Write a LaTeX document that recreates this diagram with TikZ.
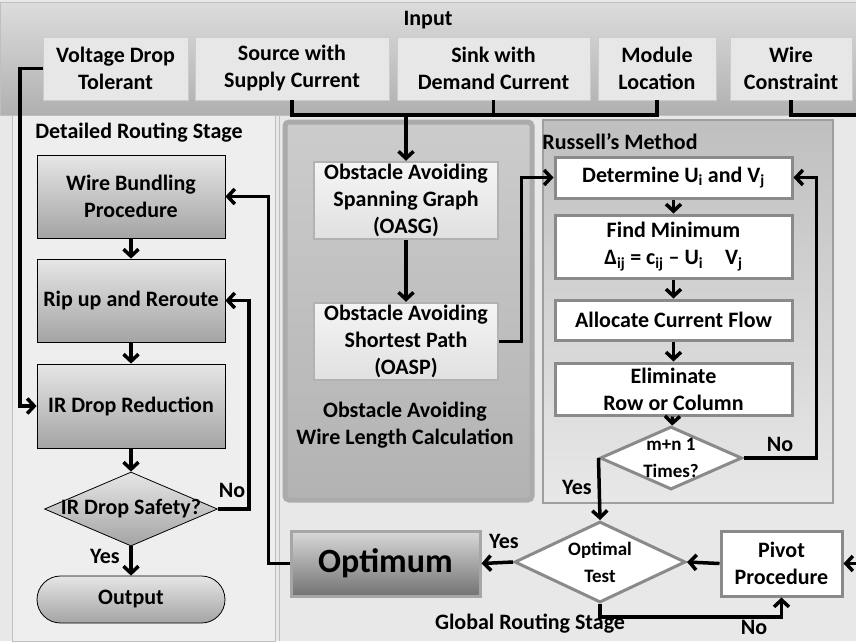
\documentclass[tikz,border=0pt]{standalone}
\usepackage{fontspec}
\setmainfont{Carlito}
\usetikzlibrary{positioning,arrows.meta,shapes.geometric}
\definecolor{paper}{HTML}{E8E8E8}
\definecolor{bandtop}{HTML}{DCDCDC}
\definecolor{bandbot}{HTML}{B0B0B0}
\definecolor{inbox}{HTML}{E7E7E7}
\definecolor{panel}{HTML}{EEEEEE}
\definecolor{frame}{HTML}{8A8A8A}
\definecolor{shtop}{HTML}{E6E6E6}
\definecolor{shbot}{HTML}{A4A4A4}
\newcommand{\zw}[1]{\makebox[0pt]{#1}}
\tikzset{%
  txt/.style={
    font=\bfseries\fontsize{22}{27}\selectfont,
    align=center
  },
  small txt/.style={
    font=\bfseries\fontsize{19}{27}\selectfont,
    align=center
  },
  panel line/.style={
    draw=black!25,
    line width=1pt
  },
  input box/.style={
    txt,
    draw=white!80!black,
    fill=inbox,
    minimum height=63pt,
    inner sep=0pt
  },
  shade box/.style={
    txt,
    draw=black,
    line width=0.8pt,
    top color=shtop,
    bottom color=shbot,
    minimum width=188pt,
    inner sep=0pt
  },
  grey box/.style={
    txt,
    draw=black!30,
    line width=2.5pt,
    top color=black!4,
    bottom color=black!12,
    minimum width=184pt,
    minimum height=77pt,
    inner sep=0pt
  },
  white box/.style={
    txt,
    draw=frame,
    line width=3pt,
    fill=white,
    minimum width=237pt,
    inner sep=0pt
  },
  decision/.style={
    diamond,
    small txt,
    inner sep=0pt
  },
  flow line/.style={
    line width=3.5pt,
    -{Straight Barb[length=7pt,width=15pt]}
  },
  plain line/.style={
    line width=3.5pt
  },
}

\begin{document}
\begin{tikzpicture}[x=1pt, y=-1pt]
\useasboundingbox (0,0) rectangle (856,641);

% backgrounds
\fill[paper] (0,0) rectangle (856,641);
\draw[panel line, top color=bandtop, bottom color=bandbot] (0,2) rectangle (856,115);
\draw[panel line, fill=panel] (12,115) rectangle (275,641);
\draw[panel line] (279,115) -- (279,641);
\draw[draw=black!33, line width=5pt, rounded corners=4pt,
  top color=black!20, bottom color=black!30] (285,122) rectangle (532,500);
\draw[draw=black!38, line width=1.2pt,
  top color=black!25, bottom color=black!9] (543,120) rectangle (833,503);

% titles
\node[txt] (input) at (428,20) {Input};
\node[txt] (detail) at (139,133) {Detailed Routing Stage};
\node[txt] (russell) at (620,142) {Russell’s Method};
\node[txt] (oawl) at (405,425) {Obstacle Avoiding\\Wire Length Calculation};
\node[txt] (global) at (530,624) {Global Routing Stage};

% input row
\node[input box, minimum width=145pt] (vdt) at (115.5,68.5) {Voltage Drop\\Tolerant};
\node[input box, minimum width=194pt] (src) at (292,68.5) {Source with\\Supply Current};
\node[input box, minimum width=193pt] (snk) at (493.5,68.5) {Sink with\\Demand Current};
\node[input box, minimum width=118pt] (mod) at (657,68.5) {Module\\Location};
\node[input box, minimum width=122pt] (wire) at (791,68.5) {Wire\\Constraint};

% detailed routing stage
\node[shade box, minimum height=83pt] (wbp) at (131,196.5) {Wire Bundling\\Procedure};
\node[shade box, minimum height=83pt] (rip) at (131,300.5) {Rip up and Reroute};
\node[shade box, minimum height=84pt] (ird) at (131,406) {IR Drop Reduction};
\node[decision, txt, draw=black, line width=0.8pt, top color=shtop, bottom color=shbot,
  minimum width=173pt, minimum height=74pt] (safe) at (131,509) {\zw{IR Drop Safety?}};
\node[shade box, minimum height=47pt, rounded corners=23.5pt] (out) at (131,599.5) {Output};

% obstacle avoiding wire length
\node[grey box] (oasg) at (406,200.5) {Obstacle Avoiding\\Spanning Graph\\(OASG)};
\node[grey box] (oasp) at (406,341.5) {Obstacle Avoiding\\Shortest Path\\(OASP)};

% russell's method
\node[white box, minimum height=41pt] (det) at (673.5,177.5)
  {Determine U\textsubscript{i} and V\textsubscript{j}};
\node[white box, minimum height=63pt] (fmin) at (673.5,246.5)
  {Find Minimum\\Δ\textsubscript{ij} = c\textsubscript{ij} – U\textsubscript{i}\quad V\textsubscript{j}};
\node[white box, minimum height=40pt] (acf) at (673.5,320) {Allocate Current Flow};
\node[white box, minimum height=52pt] (elim) at (673.5,389) {Eliminate\\Row or Column};
\node[decision, draw=frame, line width=3pt, fill=white,
  minimum width=142pt, minimum height=63pt] (times) at (671,458) {\zw{m+n 1}\\\zw{Times?}};

% global routing stage
\node[txt, font=\bfseries\fontsize{34}{40}\selectfont, draw=black!35, line width=3pt,
  top color=black!15, bottom color=black!55, minimum width=189pt, minimum height=65pt,
  inner sep=0pt] (opt) at (385.5,563.5) {Optimum};
\node[decision, draw=frame, line width=3pt, fill=white,
  minimum width=171pt, minimum height=81pt] (test) at (600,562) {\zw{Optimal}\\\zw{Test}};
\node[white box, minimum width=121pt, minimum height=65pt] (pivot) at (781.5,563.5) {Pivot\\Procedure};

% yes / no labels
\node[txt] (no1) at (232,490) {No};
\node[txt] (yes1) at (105,556) {Yes};
\node[txt] (no2) at (780,444) {No};
\node[txt] (yes2) at (577,487) {Yes};
\node[txt] (yes3) at (504,541) {Yes};
\node[txt] (no3) at (754,627) {No};

% input connectors
\coordinate (bus) at (406,115);
\coordinate (edge) at (858,115);
\draw[plain line] (src.south) |- (bus) -| (mod.south);
\draw[plain line] (snk.south) -- (snk.south |- bus);
\draw[flow line] (bus) -- (oasg.north);
\draw[flow line] (vdt.west) -- ++(-23,0) |- (ird.west);
\draw[flow line] (wire.south) |- (edge) |- (pivot.east);

% detailed routing flow
\draw[flow line] (wbp) -- (rip);
\draw[flow line] (rip) -- (ird);
\draw[flow line] (ird) -- (safe);
\draw[flow line] (safe) -- (out);
\draw[flow line] (safe.east) -- ++(31,0) |- (rip.east);
\draw[flow line] (opt.west) -- ++(-21,0) |- (wbp.east);

% wire length and russell flow
\draw[flow line] (oasg) -- (oasp);
\draw[flow line] (oasp.east) -- ++(22,0) |- (det.west);
\draw[flow line] (det) -- (fmin);
\draw[flow line] (fmin) -- (acf);
\draw[flow line] (acf) -- (elim);
\draw[flow line] (elim) -- (times);
\draw[flow line] (times.east) -- ++(73,0) |- (det.east);
\draw[flow line] (times.west) -- (test.north);

% global routing flow
\draw[flow line] (test.west) -- (opt.east);
\draw[flow line] (pivot.west) -- (test.east);
\draw[flow line] (test.south) -- ++(0,13) -| (pivot.south);
\end{tikzpicture}
\end{document}
